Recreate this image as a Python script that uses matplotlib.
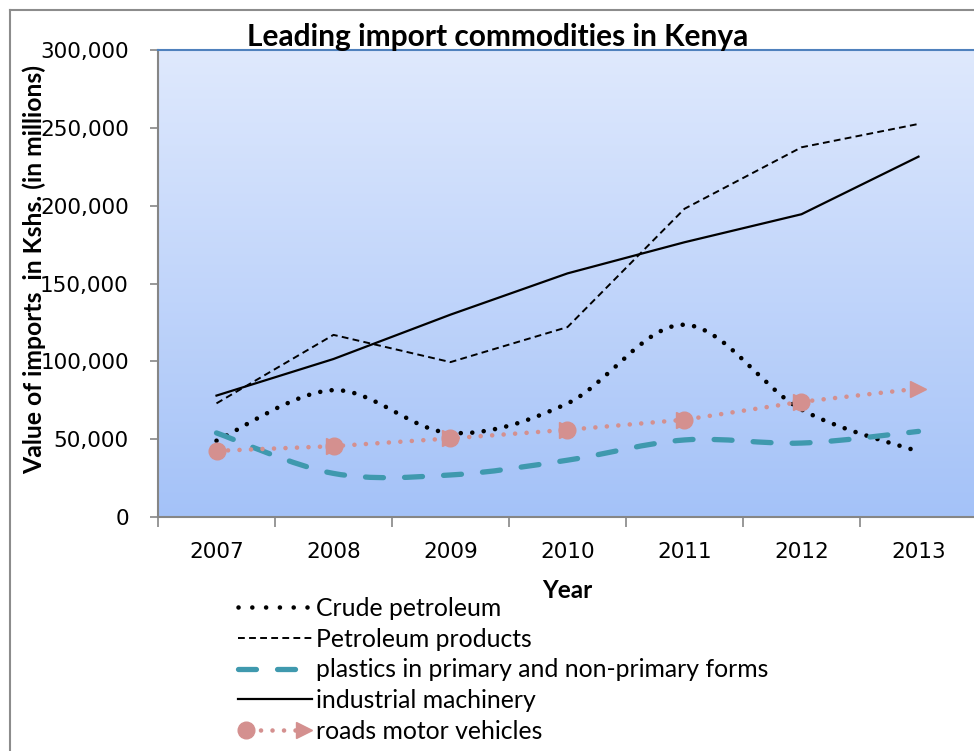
import numpy as np
import matplotlib
matplotlib.use("Agg")
import matplotlib.pyplot as plt
from matplotlib.path import Path
from matplotlib.patches import PathPatch
from matplotlib.lines import Line2D
from matplotlib.legend_handler import HandlerBase
from matplotlib.colors import LinearSegmentedColormap

years = ["2007", "2008", "2009", "2010", "2011", "2012", "2013"]
crude_petroleum = [49000, 81500, 54000, 73000, 123500, 69000, 42000]
petroleum_products = [73000, 117000, 99500, 122000, 198000, 237500, 252500]
plastics = [54000, 28000, 27000, 36500, 49500, 47500, 55000]
industrial_machinery = [78000, 101500, 130000, 156500, 176500, 194500, 231500]
road_vehicles = [42500, 45500, 50500, 56000, 62500, 74000, 82500]

series_labels = ["Crude petroleum", "Petroleum products",
                 "plastics in primary and non-primary forms",
                 "industrial machinery", "roads motor vehicles"]

TEAL = "#3f99ae"
PINK = "#d4908f"
W, H = 974, 751

fig = plt.figure(figsize=(W / 100, H / 100), dpi=100)
ax = fig.add_axes([158 / W, 1 - 517 / H, (977 - 158) / W, (517 - 50) / H])

# gradient background
cmap = LinearSegmentedColormap.from_list("bg", ["#a4c2f8", "#dfe9fd"])
grad = np.linspace(0, 1, 256).reshape(-1, 1)
ax.imshow(grad, cmap=cmap, aspect="auto", extent=[0, 1, 0, 1],
          transform=ax.transAxes, origin="lower", zorder=0)

x = np.arange(len(years))


def smooth_path(xs, ys):
    pts = np.column_stack([xs, ys]).astype(float)
    n = len(pts)
    verts = [pts[0]]
    codes = [Path.MOVETO]
    for i in range(n - 1):
        p0 = pts[i - 1] if i > 0 else pts[i]
        p1 = pts[i]
        p2 = pts[i + 1]
        p3 = pts[i + 2] if i + 2 < n else pts[i + 1]
        c1 = p1 + (p2 - p0) / 6.0
        c2 = p2 - (p3 - p1) / 6.0
        verts += [c1, c2, p2]
        codes += [Path.CURVE4] * 3
    return Path(verts, codes)


DOT = (0, (0.01, 2.5))
PLDASH = (0, (3.4, 4.0))
PRDASH = (0, (3.5, 2.2))
# industrial machinery (solid)
ax.plot(x, industrial_machinery, color="black", lw=1.6, zorder=3)
# petroleum products (thin dashed)
ax.plot(x, petroleum_products, color="black", lw=1.4, ls=PRDASH, zorder=3)
# crude petroleum (smoothed, dotted)
ax.add_patch(PathPatch(smooth_path(x, crude_petroleum), fill=False,
                       edgecolor="black", lw=3.3, ls=DOT, capstyle="round",
                       zorder=3))
# plastics (smoothed, long dash)
ax.add_patch(PathPatch(smooth_path(x, plastics), fill=False, edgecolor=TEAL,
                       lw=3.8, ls=PLDASH, capstyle="round", zorder=3))
# road vehicles (dotted with circle markers and arrows)
ax.plot(x, road_vehicles, color=PINK, lw=3.3, ls=DOT,
        dash_capstyle="round", zorder=4)
ax.plot(x[:-1], road_vehicles[:-1], ls="none", marker="o", ms=12,
        color=PINK, mec=PINK, zorder=5)
ax.plot(x[1:], road_vehicles[1:], ls="none", marker=">", ms=12,
        color=PINK, mec=PINK, zorder=5)

ax.set_xlim(-0.5, len(years) - 0.5)
ax.set_ylim(0, 300000)
ax.set_yticks(np.arange(0, 300001, 50000))
ax.set_yticklabels([f"{v:,}" for v in range(0, 300001, 50000)])
ax.set_xticks(x)
ax.set_xticklabels(years)
ax.set_xticks(np.arange(-0.5, len(years), 1.0), minor=True)
ax.tick_params(axis="x", which="major", length=0, pad=18, labelsize=15.5)
ax.tick_params(axis="x", which="minor", length=7, color="#868686", width=1.2)
ax.tick_params(axis="y", length=6, color="#868686", width=1.2, pad=15,
               labelsize=15.5)

for s in ["left", "bottom"]:
    ax.spines[s].set_color("#868686")
    ax.spines[s].set_linewidth(1.5)
ax.spines["top"].set_color("#4f81bd")
ax.spines["top"].set_linewidth(1.5)
ax.spines["right"].set_visible(False)

fig.text(34 / W, 1 - 270 / H, "Value of imports  in Kshs. (in millions)",
         rotation=90, ha="center", va="center", fontsize=17.8,
         fontweight="bold", family="Lato")
fig.text(567 / W, 1 - 591 / H, "Year", ha="center", va="center",
         fontsize=17.5, fontweight="bold", family="Lato")
fig.text(498 / W, 1 - 37 / H, "Leading import commodities in Kenya",
         ha="center", va="center", fontsize=21.5, fontweight="bold",
         family="Lato")

# figure border
fig.add_artist(Line2D([10 / W, 10 / W], [0, 1 - 10 / H], color="#8c8c8c",
                      lw=1.5, transform=fig.transFigure))
fig.add_artist(Line2D([10 / W, 1], [1 - 10 / H, 1 - 10 / H], color="#8c8c8c",
                      lw=1.5, transform=fig.transFigure))


class RoadsHandler(HandlerBase):
    def create_artists(self, legend, orig_handle, xdescent, ydescent,
                       width, height, fontsize, trans):
        y = height / 2 - ydescent
        x0 = -xdescent
        x1 = width - xdescent
        l = Line2D([x0 + 8, x1 - 8], [y, y], color=PINK, lw=3.3,
                   ls=DOT, dash_capstyle="round")
        c = Line2D([x0 + 6], [y], ls="none", marker="o", ms=12, color=PINK)
        t = Line2D([x1 - 6], [y], ls="none", marker=">", ms=12, color=PINK)
        for a in (l, c, t):
            a.set_transform(trans)
        return [l, c, t]


h_crude = Line2D([], [], color="black", lw=3.3, ls=(0, (0.01, 3.0)),
                 dash_capstyle="round")
h_prod = Line2D([], [], color="black", lw=1.4, ls=PRDASH)
h_plast = Line2D([], [], color=TEAL, lw=3.8, ls=PLDASH,
                 dash_capstyle="round")
h_mach = Line2D([], [], color="black", lw=1.6)
h_road = Line2D([], [], color=PINK)

leg = fig.legend([h_crude, h_prod, h_plast, h_mach, h_road], series_labels,
                 loc="upper left", bbox_to_anchor=(238 / W, 1 - 597 / H),
                 frameon=False, borderpad=0, borderaxespad=0,
                 handlelength=3.0, handletextpad=0.16, labelspacing=0.31,
                 prop={"family": "Lato", "size": 17.8},
                 handler_map={h_road: RoadsHandler()})

fig.savefig("out.png", dpi=100)
